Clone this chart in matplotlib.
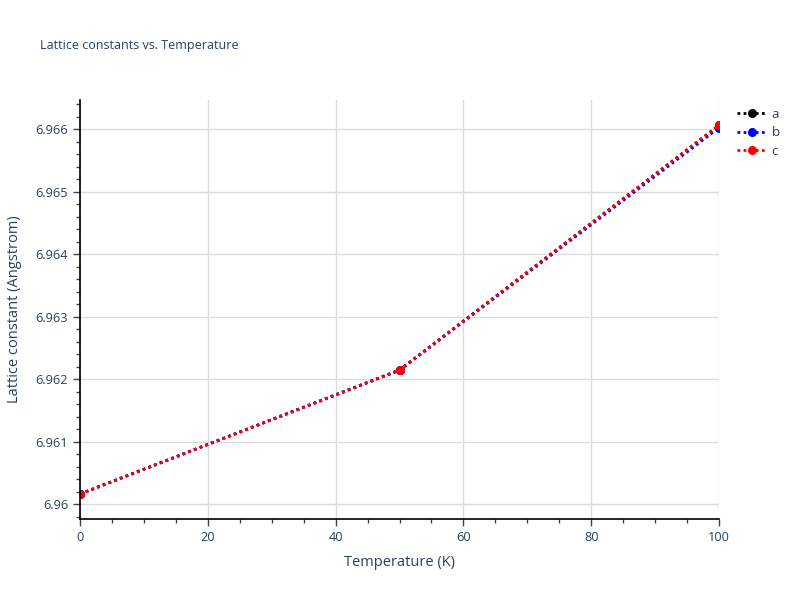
import matplotlib

matplotlib.use("Agg")
import matplotlib.pyplot as plt
from matplotlib.ticker import MultipleLocator

plt.rcParams["font.family"] = ["Open Sans", "DejaVu Sans"]

TEXT = "#2a3f5f"
GRID = "#dcdcdc"

temperature = [0, 50, 100]
lattice_a = [6.96016, 6.962145, 6.96606]
lattice_b = [6.96016, 6.962140, 6.96602]
lattice_c = [6.96016, 6.962140, 6.96606]
series = [("a", lattice_a, "black"), ("b", lattice_b, "blue"), ("c", lattice_c, "red")]

fig = plt.figure(figsize=(8, 6), dpi=100)
ax = fig.add_axes([0.1, 0.135, 0.79875, 0.6983])

for name, vals, col in series:
    ax.plot(temperature, vals, linestyle=(0, (1, 1.2)), linewidth=2, color=col,
            marker="o", markersize=5.5, label=name)

ax.set_xlim(0, 100)
ax.set_ylim(6.95976, 6.966464)
ax.xaxis.set_major_locator(MultipleLocator(20))
ax.xaxis.set_minor_locator(MultipleLocator(5))
ax.yaxis.set_major_locator(MultipleLocator(0.001))
ax.yaxis.set_minor_locator(MultipleLocator(0.0002))
ax.yaxis.set_major_formatter(matplotlib.ticker.FuncFormatter(
    lambda v, _: f"{v:.3f}".rstrip("0").rstrip(".")))

ax.grid(True, which="major", color=GRID, linewidth=1)
ax.set_axisbelow(True)
for side in ("top", "right"):
    ax.spines[side].set_visible(False)
for side in ("left", "bottom"):
    ax.spines[side].set_color("black")
    ax.spines[side].set_linewidth(1.2)
ax.tick_params(which="major", length=5, width=1, colors="#444444",
               labelcolor=TEXT, labelsize=9.2)
ax.tick_params(which="minor", length=3, width=1, colors="#444444")

ax.set_xlabel("Temperature (K)", color=TEXT, fontsize=10.5, labelpad=8)
ax.set_ylabel("Lattice constant (Angstrom)", color=TEXT, fontsize=10.5, labelpad=10)
fig.text(0.05, 0.925, "Lattice constants vs. Temperature", color=TEXT,
         fontsize=9, va="center", ha="left")

leg = ax.legend(loc="upper left", bbox_to_anchor=(1.01, 1.01), frameon=False,
                fontsize=9.5, handlelength=2.2, labelspacing=0.42, handletextpad=0.4)
for t in leg.get_texts():
    t.set_color(TEXT)

fig.savefig("out.png", dpi=100)
